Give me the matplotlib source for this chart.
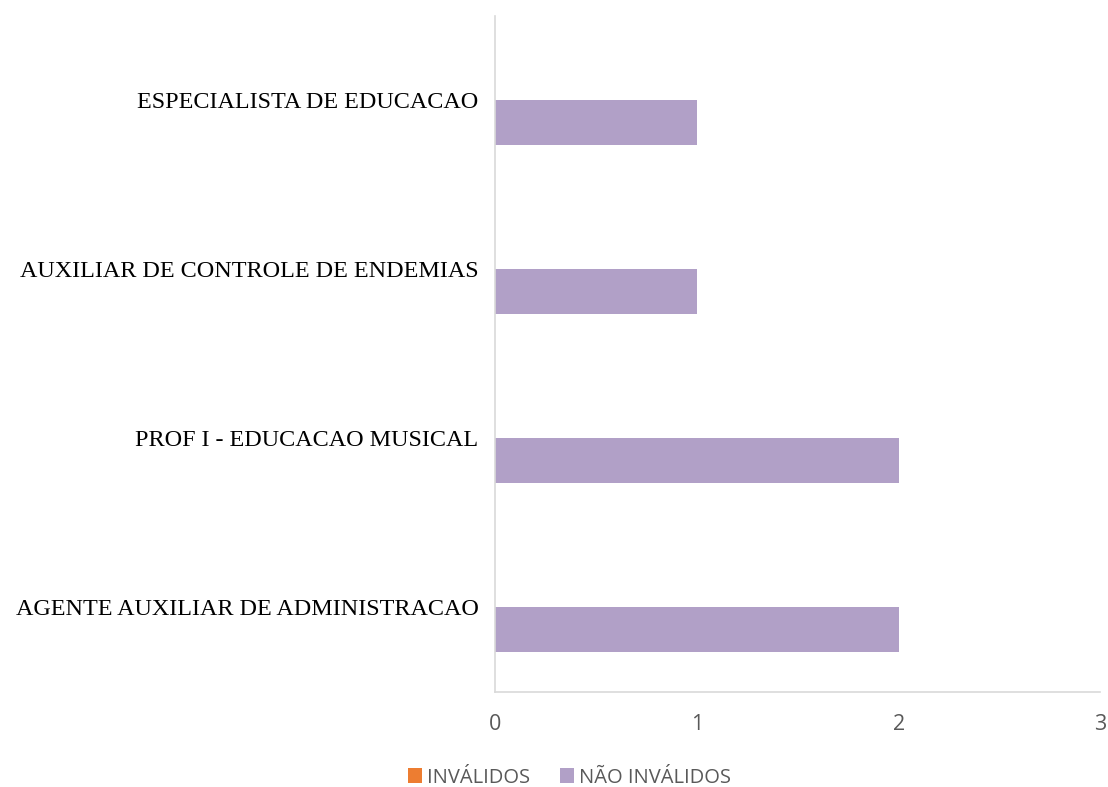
import matplotlib
matplotlib.use("Agg")
import matplotlib.pyplot as plt
import numpy as np

categories = [
    "AGENTE AUXILIAR DE ADMINISTRACAO",
    "PROF I - EDUCACAO MUSICAL",
    "AUXILIAR DE CONTROLE DE ENDEMIAS",
    "ESPECIALISTA DE EDUCACAO",
]
invalidos = [0, 0, 0, 0]
nao_invalidos = [2, 2, 1, 1]
x_ticks = [0, 1, 2, 3]

fig = plt.figure(figsize=(11.08, 7.87), dpi=100)
ax = fig.add_axes([0.447, 0.121, 0.546, 0.859])

y = np.arange(len(categories))
h = 0.267
ax.barh(y + h / 2, invalidos, height=h, color="#ED7D31", label="INVÁLIDOS")
ax.barh(y - h / 2, nao_invalidos, height=h, color="#B1A0C7", label="NÃO INVÁLIDOS")

ax.set_xlim(0, 3)
ax.set_ylim(-0.5, len(categories) - 0.5)
ax.set_xticks(x_ticks)
ax.set_xticklabels([str(t) for t in x_ticks], fontname="Open Sans", fontsize=15.5, color="#595959")
ax.set_yticks(y)
ax.set_yticklabels(categories, fontname="Liberation Serif", fontsize=17.4, color="black")
ax.tick_params(axis="both", length=0)
ax.tick_params(axis="x", pad=16)
ax.tick_params(axis="y", pad=12)

for side in ["top", "right"]:
    ax.spines[side].set_visible(False)
for side in ["left", "bottom"]:
    ax.spines[side].set_color("#D9D9D9")
    ax.spines[side].set_linewidth(1.2)

fig.legend(loc="center", bbox_to_anchor=(0.514, 0.012), ncol=2, frameon=False,
           prop={"family": "Open Sans", "size": 14.5}, labelcolor="#595959",
           handlelength=0.7, handleheight=0.7, handletextpad=0.25, columnspacing=1.5)

fig.savefig("out.png", dpi=100)
